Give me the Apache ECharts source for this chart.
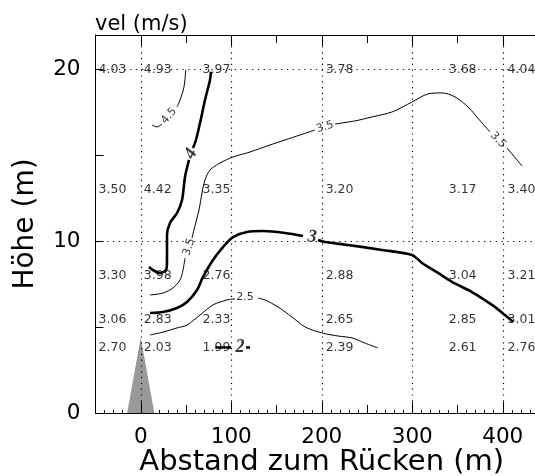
<!DOCTYPE html>
<html><head><meta charset="utf-8">
<script src="https://cdn.jsdelivr.net/npm/echarts@6/dist/echarts.min.js"></script>
<style>html,body{margin:0;padding:0;background:#fff}#c{width:535px;height:476px}</style>
</head><body><div id="c"></div>
<script>
// measurement stations (x in m, height in m) and velocities (m/s)
const stationX = [-50, 0, 65, 201, 337, 402];
const stationY = [20, 13, 8, 5.4, 3.8];
const vel = [
  [4.03, 4.93, 3.97, 3.78, 3.68, 4.04],
  [3.50, 4.42, 3.35, 3.20, 3.17, 3.40],
  [3.30, 3.98, 2.76, 2.88, 3.04, 3.21],
  [3.06, 2.83, 2.33, 2.65, 2.85, 3.01],
  [2.70, 2.03, 1.99, 2.39, 2.61, 2.76]
];
// axis ticks / grid
const xGrid = [0, 100, 200, 300, 400];
const yGrid = [10, 20];
// ridge profile
const ridge = [[-15, 0], [0, 4.41], [15, 0]];
// contour lines (segments, broken at labels)
const contour45 = [
  [[49.7,19.97],[47.8,18.98],[43.4,18.22],[40.1,17.81]],
  [[23.5,16.82],[18.0,16.65],[12.4,16.76]]
];
const contour40 = [
  [[77.6,19.85],[76.5,19.38],[71.0,18.22],[65.5,16.88],[61.0,15.89],[57.7,15.42]],
  [[53.3,14.73],[48.9,13.74],[45.6,12.40],[40.1,11.64],[32.3,11.06],[29.0,10.36],[29.0,8.79],[27.9,8.32],[21.3,8.15],[13.5,8.32],[9.1,8.50]]
];
const contour35 = [
  [[10.2,6.87],[24.6,6.98],[35.6,7.28],[43.4,7.74],[46.7,8.32],[48.9,9.02]],
  [[56.6,10.19],[61.0,11.12],[64.4,11.82],[67.7,12.81],[71.0,13.56],[76.5,14.14],[87.6,14.55],[102.0,14.90],[120.7,15.19],[142.8,15.60],[159.4,15.89],[176.0,16.18],[192.5,16.47]],
  [[214.6,16.82],[236.7,17.00],[255.5,17.23],[277.6,17.52],[299.7,18.10],[317.4,18.57],[332.9,18.63],[347.2,18.40],[361.6,17.81],[377.1,16.88],[385.9,16.36]],
  [[404.7,15.42],[421.3,14.38]]
];
const contour30 = [
  [[10.2,5.82],[24.6,5.88],[40.1,6.11],[51.1,6.46],[62.2,7.16],[68.8,7.92],[79.8,8.91],[90.9,9.66],[102.0,10.24],[117.4,10.54],[135.1,10.59],[159.4,10.48],[179.3,10.30]],
  [[195.9,10.07],[203.6,9.95],[229.0,9.78],[266.6,9.49],[299.7,9.20],[310.8,8.73],[328.5,8.15],[343.9,7.63],[366.0,7.04],[388.1,6.29],[402.5,5.70],[411.3,5.30]]
];
const contour25 = [
  [[10.2,4.54],[24.6,4.71],[40.1,4.95],[51.1,5.12],[65.5,5.70],[79.8,6.29],[95.3,6.58],[104.1,6.64]],
  [[129.6,6.69],[137.3,6.58],[151.7,6.17],[167.1,5.59],[181.5,5.01],[200.3,4.66],[218.0,4.48],[233.4,4.37],[247.8,4.07],[262.2,3.78]]
];
const contour20 = [
  [[82.3,3.81],[100.0,3.81]],
  [[116.3,3.81],[120.7,3.81]]
];
// contour labels: text, x, y, angle
const labelsThin = [
  ['4.5', 31.2, 17.29, 49],
  ['3.5', 53.3, 9.66, 72],
  ['3.5', 203.6, 16.65, 17],
  ['3.5', 394.8, 15.89, -47],
  ['2.5', 115.2, 6.72, 0]
];
const labelsThick = [
  ['4', 55.5, 15.08, 62],
  ['3', 189.3, 10.24, -5],
  ['2', 109.7, 3.81, 0]
];

const FONT = 'DejaVu Sans';
function lines(segs, w) {
  return segs.map(s => ({
    type: 'line', data: s, symbol: 'none', showSymbol: false, smooth: 0.3,
    lineStyle: { color: '#000', width: w }, z: 3, silent: true
  }));
}
const velData = [];
stationY.forEach((y, i) => stationX.forEach((x, j) => velData.push([x, y, vel[i][j]])));

function labelSeries(arr, style) {
  return {
    type: 'scatter', symbolSize: 0, clip: false, z: 4, silent: true,
    data: arr.map(a => ({ value: [a[1], a[2]], name: a[0], label: { rotate: a[3] } })),
    label: Object.assign({ show: true, position: 'inside', align: 'center', verticalAlign: 'middle',
      formatter: p => p.name, color: '#000' }, style)
  };
}

const markData = [];
xGrid.forEach(v => markData.push({ xAxis: v }));
yGrid.forEach(v => markData.push({ yAxis: v }));
const tickStyle = { type: 'solid', width: 1, color: '#000' };
xGrid.forEach(v => {
  markData.push([{ coord: [v, 0], lineStyle: tickStyle }, { coord: [v, 0.65] }]);
  markData.push([{ coord: [v, 22] , lineStyle: tickStyle }, { coord: [v, 21.35] }]);
});

const series = [
  {
    type: 'line', data: ridge, symbol: 'none', z: 1, silent: true,
    lineStyle: { width: 0, color: '#999' }, areaStyle: { color: '#999', opacity: 1 },
    markLine: {
      silent: true, symbol: ['none', 'none'], label: { show: false },
      lineStyle: { type: [1.2, 4.6], width: 1.2, color: '#000' },
      data: markData
    }
  },
  ...lines(contour45, 1), ...lines(contour35, 1), ...lines(contour25, 1),
  ...lines(contour40, 2.6), ...lines(contour30, 2.6), ...lines(contour20, 2.6),
  {
    type: 'scatter', symbolSize: 0, clip: false, z: 2, silent: true, data: velData,
    label: { show: true, position: 'right', distance: 3, formatter: p => p.value[2].toFixed(2),
      fontFamily: FONT, fontSize: 12.5, color: '#000' }
  },
  labelSeries(labelsThin, { fontFamily: FONT, fontSize: 11 }),
  labelSeries(labelsThick, { fontFamily: 'Liberation Serif', fontWeight: 'bold', fontStyle: 'italic', fontSize: 18 })
];

const chart = echarts.init(document.getElementById('c'), null, { renderer: 'canvas' });
chart.setOption({
  animation: false,
  backgroundColor: '#fff',
  title: { text: 'vel (m/s)', left: 95, top: 14, padding: 0,
    textStyle: { fontFamily: FONT, fontSize: 21, fontWeight: 'normal', color: '#000' } },
  grid: { left: 95.5, top: 35, width: 452.5, height: 378, containLabel: false, outerBoundsMode: 'none' },
  xAxis: [{
    type: 'value', min: -50, max: 450, interval: 50, position: 'bottom',
    name: 'Abstand zum Rücken (m)', nameLocation: 'middle', nameGap: 35, nameMoveOverlap: false,
    nameTextStyle: { fontFamily: FONT, fontSize: 29, color: '#000' },
    axisLine: { show: true, onZero: false, lineStyle: { color: '#000', width: 1 } },
    axisTick: { show: true, inside: true, length: 8, lineStyle: { color: '#000' } },
    minorTick: { show: true, splitNumber: 5, length: 3, lineStyle: { color: '#000' } },
    axisLabel: { margin: 13, fontFamily: FONT, fontSize: 21.5, color: '#000',
      formatter: v => (v % 100 === 0 && v >= 0 && v <= 400) ? String(v) : '' },
    splitLine: { show: false }
  }, {
    type: 'value', min: -50, max: 450, interval: 50, position: 'top',
    axisLine: { show: true, onZero: false, lineStyle: { color: '#000', width: 1 } },
    axisTick: { show: true, inside: true, length: 8, lineStyle: { color: '#000' } },
    axisLabel: { show: false }, splitLine: { show: false }
  }],
  yAxis: {
    type: 'value', min: 0, max: 22, interval: 5,
    name: 'Höhe (m)', nameLocation: 'middle', nameGap: 56, nameMoveOverlap: false,
    nameTextStyle: { fontFamily: FONT, fontSize: 28, color: '#000' },
    axisLine: { show: true, onZero: false, lineStyle: { color: '#000', width: 1 } },
    axisTick: { show: true, inside: true, length: 8, lineStyle: { color: '#000' } },
    axisLabel: { margin: 15, fontFamily: FONT, fontSize: 21.5, color: '#000',
      formatter: v => (v % 10 === 0) ? String(v) : '' },
    splitLine: { show: false }
  },
  series: series
});
</script></body></html>
